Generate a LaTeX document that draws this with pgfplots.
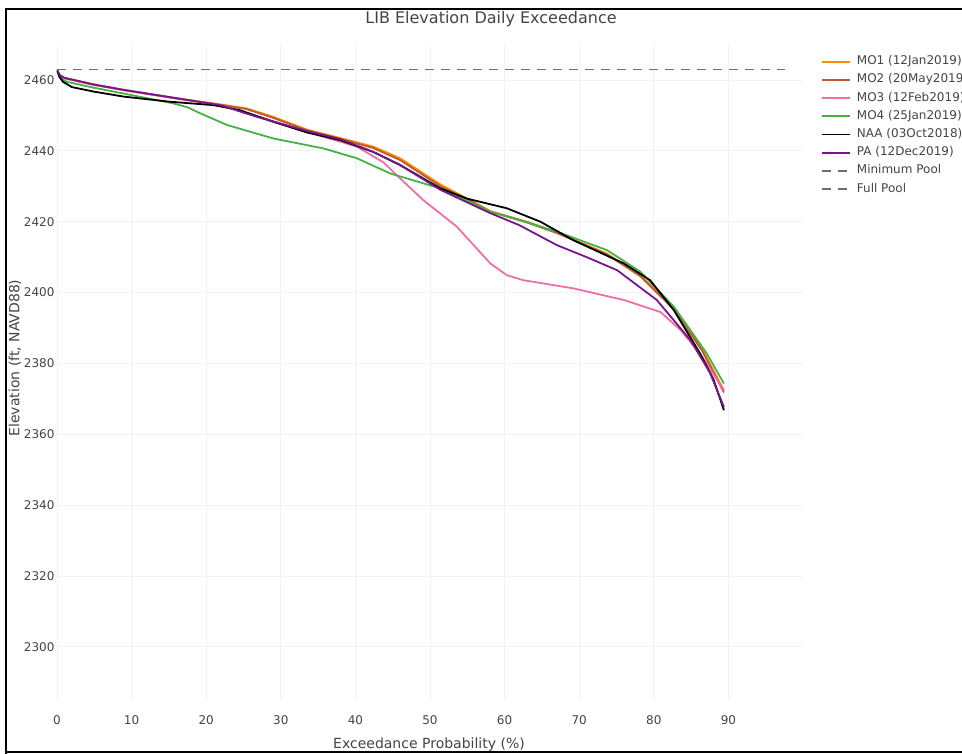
\documentclass[border=0pt]{standalone}
\usepackage{fontspec}
\setmainfont{DejaVu Sans}
\usepackage{pgfplots}
\pgfplotsset{compat=1.18}
\definecolor{txt}{RGB}{68,68,68}
\definecolor{cMOa}{RGB}{255,140,0}
\definecolor{cMOb}{RGB}{192,88,50}
\definecolor{cMOc}{RGB}{240,110,165}
\definecolor{cMOd}{RGB}{70,178,70}
\definecolor{cPA}{RGB}{120,20,140}
\definecolor{cpool}{RGB}{110,110,110}
\begin{document}
\begin{tikzpicture}
\begin{axis}[
  at={(57pt,54pt)}, anchor=south west,
  scale only axis, width=746pt, height=655.4pt,
  xmin=0, xmax=100, ymin=2285, ymax=2470,
  xtick={0,10,...,90}, ytick={2300,2320,...,2460},
  axis line style={draw=none}, major tick length=0pt,
  grid=major, grid style={black!5, line width=0.8pt},
  /pgf/number format/assume math mode=true,
  /pgf/number format/1000 sep={},
  tick label style={font=\fontsize{12}{14}\selectfont, text=txt},
  xticklabel style={yshift=-12pt},
  yticklabel style={xshift=1pt},
  legend cell align=left,
  legend image code/.code={\draw[#1] (0pt,0pt) -- (28pt,0pt);},
  legend style={at={(axis description cs:1.024,0.985)}, anchor=north west,
    draw=none, fill=none, font=\fontsize{12}{14}\selectfont, text=txt,
    inner sep=0pt, row sep=4.2pt,
    nodes={inner sep=1pt, text height=9pt, text depth=3pt},
    /tikz/every odd column/.append style={column sep=5pt}},
  every axis plot/.append style={line width=1.8pt, line join=round},
]
\addplot[cMOa] coordinates {(0,2462.8)(0.4,2461.3)(1,2460.6)(5,2458.7)(9,2457.2)(15.6,2455)(21.9,2453.1)(25.4,2452)(29,2449.6)(33.5,2446)(38,2443.6)(42.4,2441.2)(46,2437.9)(51.4,2430.5)(55,2426.5)(58.1,2423)(63,2420)(67,2417)(73.7,2411)(78.2,2404.9)(82.7,2395.5)(86.5,2384)(89.4,2372.4)};
\addlegendentry{MO1 (12Jan2019)}
\addplot[cMOb] coordinates {(0,2462.8)(0.4,2461.2)(1,2460.5)(5,2458.6)(9,2457.1)(15.6,2454.9)(21.9,2453)(25.4,2451.8)(29,2449.3)(33.5,2445.8)(38,2443.4)(42.4,2440.8)(46,2437.4)(51.4,2430)(55,2426.3)(58.1,2422.8)(63,2419.8)(67,2416.8)(73.7,2410.8)(78.2,2404.6)(82.7,2395.2)(86.5,2383.5)(89.4,2371.8)};
\addlegendentry{MO2 (20May2019)}
\addplot[cMOc] coordinates {(0,2462.8)(0.4,2461.3)(1,2460.6)(5,2458.7)(9,2457.2)(15.6,2455)(21.9,2452.9)(26.8,2449.8)(33.5,2445.4)(35.7,2444)(40.2,2441.2)(43.8,2436.7)(45.6,2433)(49.1,2426.1)(53.6,2418.6)(58.1,2408.2)(60.3,2404.9)(62.5,2403.5)(69.2,2401.2)(76,2397.9)(80.9,2394.5)(83.6,2389.4)(86.2,2382.8)(89.4,2372.4)};
\addlegendentry{MO3 (12Feb2019)}
\addplot[cMOd] coordinates {(0,2462.8)(0.5,2460.5)(1.3,2459.5)(5,2457.8)(8.9,2456.2)(15.6,2453.4)(17.5,2452.3)(19.2,2450.6)(22.8,2447.3)(29,2443.5)(35.7,2440.7)(40.2,2437.9)(44.7,2433.6)(51.4,2429.4)(58.1,2422.8)(62,2420.5)(67,2417.2)(73.7,2412)(78.2,2405.9)(82.7,2396)(87.1,2382.8)(89.4,2374.3)};
\addlegendentry{MO4 (25Jan2019)}
\addplot[black] coordinates {(0,2462.8)(0.3,2461)(0.8,2459.5)(2,2458)(5,2456.7)(9,2455.3)(15,2453.9)(21,2452.9)(24.5,2451.5)(29,2448.2)(33.5,2445.2)(38,2443)(42.4,2439.7)(46,2436)(51.4,2429.4)(55,2426.5)(60.3,2423.8)(64.8,2420)(69.2,2414.8)(76,2408.2)(79.5,2403.5)(82.7,2395)(86.2,2382.8)(88,2375.5)(89.4,2366.8)};
\addlegendentry{NAA (03Oct2018)}
\addplot[cPA] coordinates {(0,2462.8)(0.4,2461.3)(1,2460.6)(5,2458.7)(9,2457.2)(15.6,2455)(21.9,2452.9)(26.8,2449.6)(33.5,2445.6)(38,2443.3)(42.4,2439.7)(46,2436)(51.4,2429)(58.1,2422.4)(62,2419)(67,2413.4)(71,2410)(75.1,2406.3)(80.4,2397.9)(84.9,2386.6)(87.5,2377.5)(89.4,2367.7)};
\addlegendentry{PA (12Dec2019)}
\addlegendimage{cpool, line width=1.5pt, dash pattern=on 9pt off 7pt}
\addlegendentry{Minimum Pool}
\addplot[cpool, line width=1.5pt, dash pattern=on 9pt off 7pt] coordinates {(0,2463)(97.6,2463)};
\addlegendentry{Full Pool}
\end{axis}
\node[anchor=base, font=\fontsize{16}{20}\selectfont, text=txt] at (491pt,730pt) {LIB Elevation Daily Exceedance};
\node[font=\fontsize{14}{16}\selectfont, text=txt] at (429pt,9pt) {Exceedance Probability (\%)};
\node[rotate=90, font=\fontsize{14}{16}\selectfont, text=txt] at (15pt,396pt) {Elevation (ft, NAVD88)};
\draw[line width=2.2pt] (6pt,0pt) -- (6pt,744.7pt);
\draw[line width=2.2pt] (4.9pt,744.7pt) -- (962pt,744.7pt);
\draw[line width=2.2pt] (4.9pt,2.3pt) -- (962pt,2.3pt);
\pgfresetboundingbox
\path[use as bounding box] (0pt,0pt) rectangle (962pt,754pt);
\end{tikzpicture}
\end{document}
